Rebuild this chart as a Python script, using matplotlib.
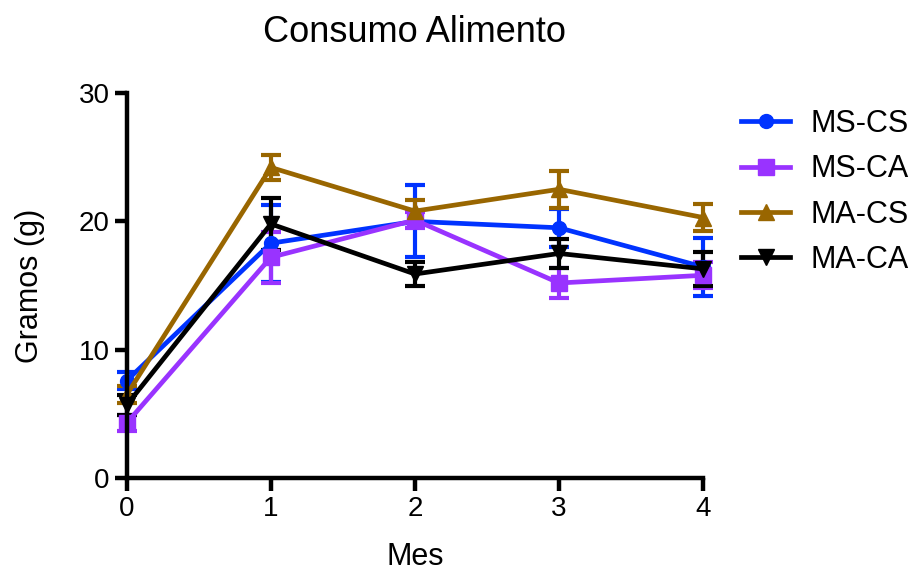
import numpy as np
import matplotlib.pyplot as plt
from matplotlib.lines import Line2D

plt.rcParams['font.family'] = ['Liberation Sans', 'DejaVu Sans']

#----Data----
meses = [0, 1, 2, 3, 4]
ms_cs = [7.6, 18.3, 20.0, 19.5, 16.45]
ms_cs_err = [0.65, 3.0, 2.8, 1.5, 2.25]
ms_ca = [4.3, 17.2, 20.1, 15.2, 15.8]
ms_ca_err = [0.6, 2.0, 0.6, 1.2, 1.0]
ma_cs = [6.5, 24.2, 20.8, 22.5, 20.3]
ma_cs_err = [0.65, 1.0, 0.9, 1.45, 1.05]
ma_ca = [5.7, 19.8, 15.9, 17.5, 16.3]
ma_ca_err = [0.75, 2.0, 0.9, 1.1, 1.35]

series = [
    ('MS-CS', ms_cs, ms_cs_err, '#0033FF', 'o', 10),
    ('MS-CA', ms_ca, ms_ca_err, '#9933FF', 's', 11),
    ('MA-CS', ma_cs, ma_cs_err, '#996600', '^', 11),
    ('MA-CA', ma_ca, ma_ca_err, '#000000', 'v', 11),
]

#----Chart----
fig = plt.figure(figsize=(9.12, 5.74), dpi=100)
ax = fig.add_axes([0.139, 0.167, 0.632, 0.671])

handles = []
for name, vals, err, color, mk, ms in series:
    ax.errorbar(meses, vals, yerr=err, color=color, marker=mk, markersize=ms,
                linewidth=3.4, elinewidth=3, capsize=7, capthick=3,
                clip_on=False)
    handles.append(Line2D([], [], color=color, marker=mk, markersize=ms,
                          linewidth=3.4, label=name))

ax.set_xlim(0, 4)
ax.set_ylim(0, 30)
ax.set_xticks(meses)
ax.set_yticks([0, 10, 20, 30])
for side in ['top', 'right']:
    ax.spines[side].set_visible(False)
for side in ['left', 'bottom']:
    ax.spines[side].set_linewidth(3.2)
ax.tick_params(axis='both', width=3.2, length=9, labelsize=20, direction='out')

ax.set_title('Consumo Alimento', fontsize=26, pad=37)
ax.set_xlabel('Mes', fontsize=22, labelpad=15)
ax.set_ylabel('Gramos (g)', fontsize=22, labelpad=24)

ax.legend(handles=handles, loc='upper left', bbox_to_anchor=(1.045, 0.99),
          frameon=False, fontsize=22, handlelength=1.6, handletextpad=0.65,
          labelspacing=0.5, borderaxespad=0)

fig.savefig('out.png', dpi=100)
